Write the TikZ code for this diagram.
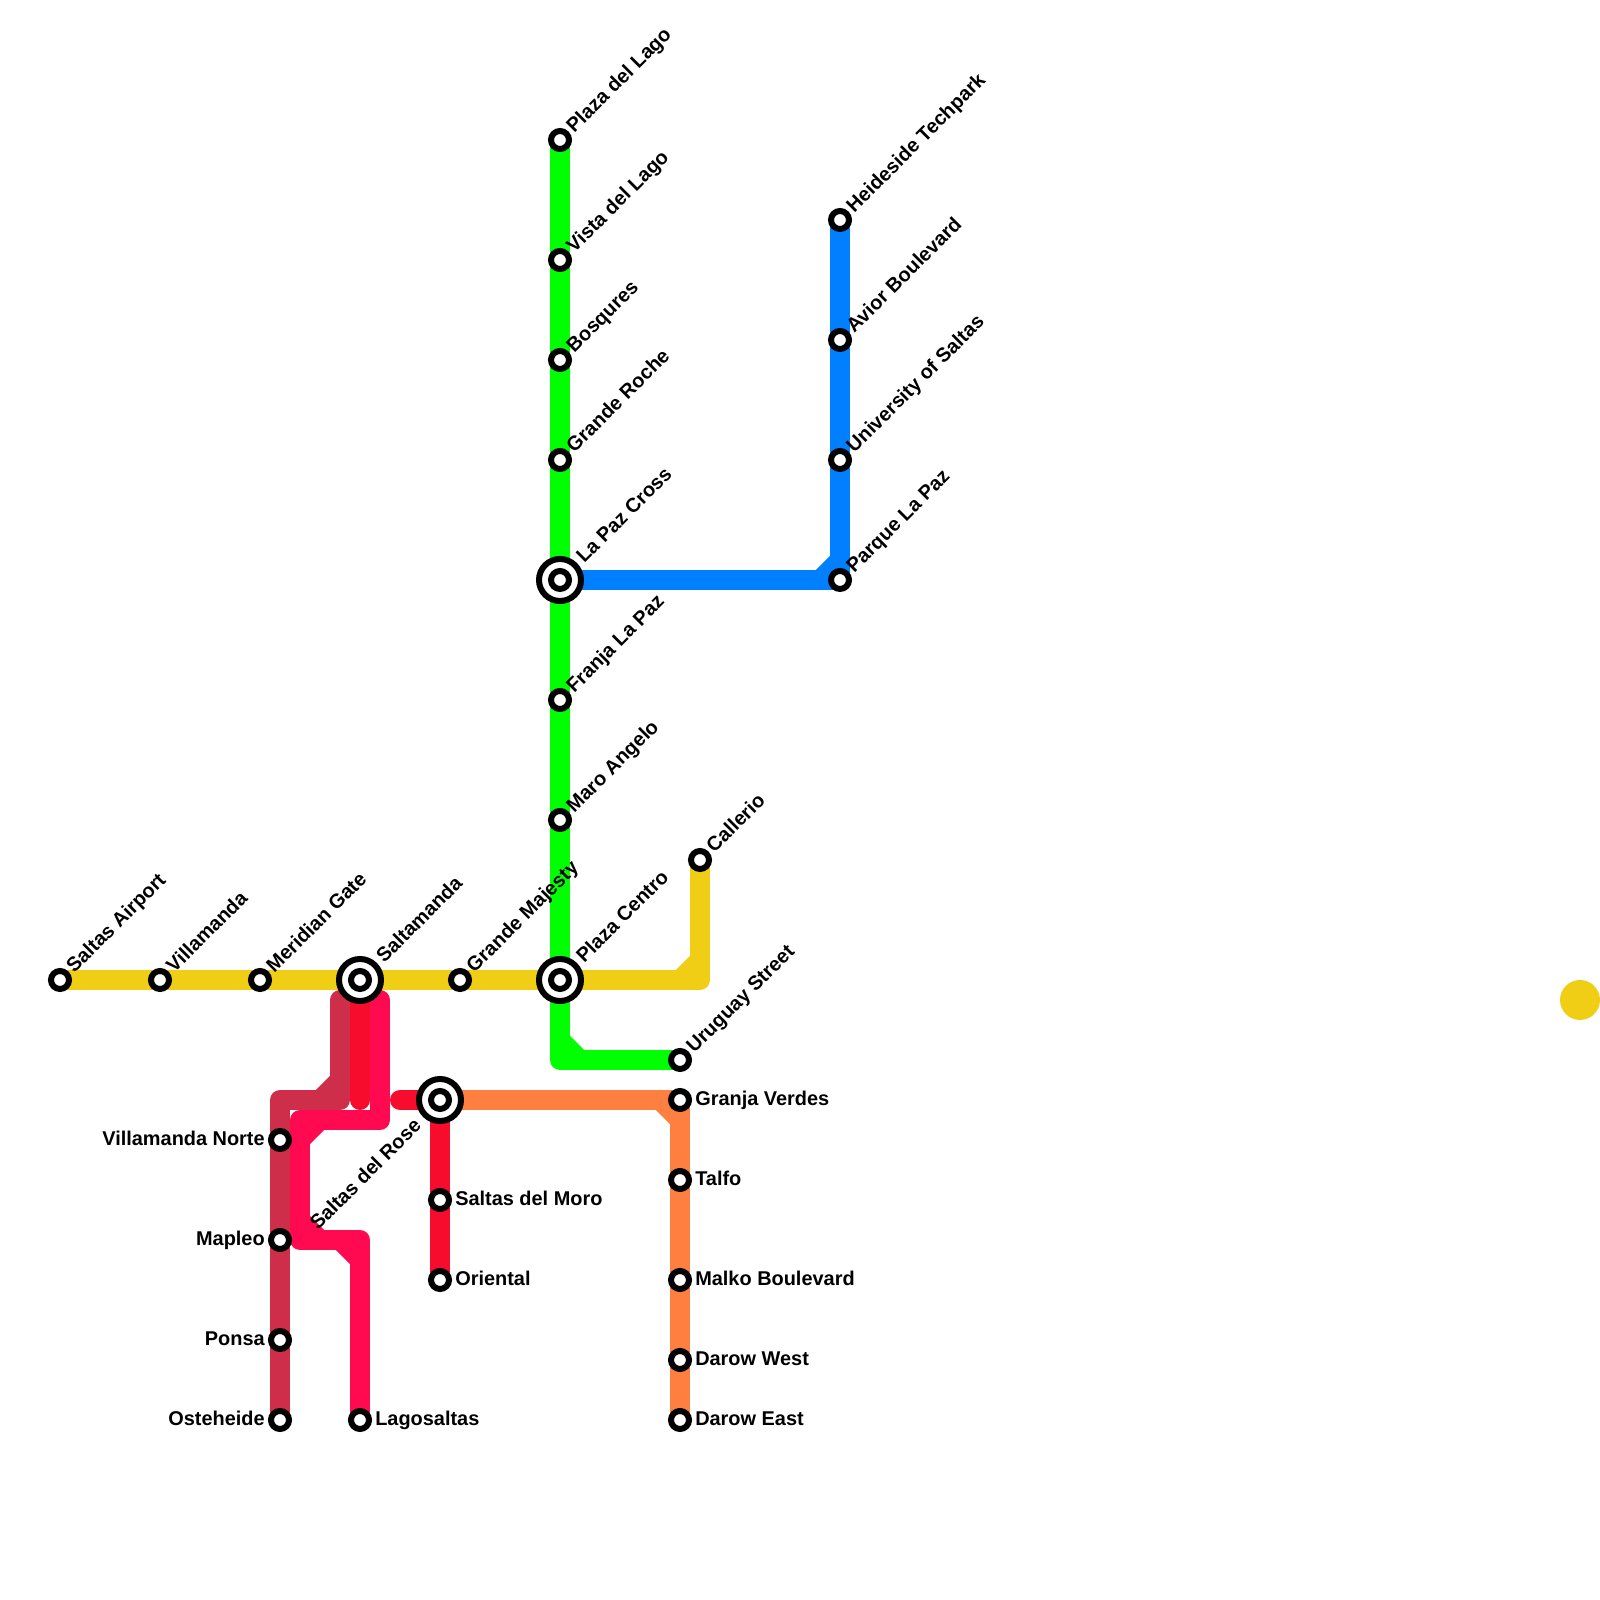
\documentclass[tikz,border=0pt]{standalone}
\usepackage{fontspec}
\usepackage{xcolor}
\usetikzlibrary{backgrounds}
\setmainfont{Liberation Sans}
\definecolor{lineyellow}{HTML}{F0CE15}
\definecolor{linegreen}{HTML}{00FF00}
\definecolor{lineblue}{HTML}{007FFF}
\definecolor{lineorange}{HTML}{FF7F41}
\definecolor{linecrimson}{HTML}{CF2E4A}
\definecolor{linered}{HTML}{F70C2D}
\definecolor{linepink}{HTML}{FF0A50}
\tikzset{
  metro/.style={line width=0.5cm,line cap=round,line join=round},
  stn/.style={circle,draw=black,fill=white,line width=0.15cm,minimum size=0.45cm,inner sep=0pt,outer sep=0pt},
  hub/.style={stn,minimum size=1.05cm,
    append after command={node[stn] at (\tikzlastnode) {}}},
  lbl/.style={font=\fontsize{14.17pt}{17pt}\selectfont\bfseries,inner sep=0pt,text=black},
  lblright/.style={lbl,anchor=base west,xshift=0.375cm,yshift=-0.15cm},
  lblleft/.style={lbl,anchor=base east,xshift=-0.375cm,yshift=-0.15cm},
  lblup/.style={lbl,rotate=45,anchor=base west,xshift=0.36cm,yshift=-0.145cm},
  lblhub/.style={lbl,rotate=45,anchor=base west,xshift=0.71cm,yshift=-0.145cm},
  lbldown/.style={lbl,rotate=45,anchor=base east,xshift=-0.78cm,yshift=-0.16cm}
}
\begin{document}
\begin{tikzpicture}[x=0.5cm,y=0.5cm]
\useasboundingbox (0,0) rectangle (80,80);
% stations
\node[stn] (airport) at (3,31) {};
\node[stn] (villamanda) at (8,31) {};
\node[stn] (meridian) at (13,31) {};
\node[hub] (saltamanda) at (18,31) {};
\node[stn] (majesty) at (23,31) {};
\node[hub] (centro) at (28,31) {};
\node[stn] (callerio) at (35,37) {};
\node[stn] (lago) at (28,73) {};
\node[stn] (vista) at (28,67) {};
\node[stn] (bosqures) at (28,62) {};
\node[stn] (roche) at (28,57) {};
\node[hub] (cross) at (28,51) {};
\node[stn] (franja) at (28,45) {};
\node[stn] (maro) at (28,39) {};
\node[stn] (uruguay) at (34,27) {};
\node[stn] (heideside) at (42,69) {};
\node[stn] (avior) at (42,63) {};
\node[stn] (university) at (42,57) {};
\node[stn] (parque) at (42,51) {};
\node[hub] (rose) at (22,25) {};
\node[stn] (granja) at (34,25) {};
\node[stn] (talfo) at (34,21) {};
\node[stn] (malko) at (34,16) {};
\node[stn] (darowwest) at (34,12) {};
\node[stn] (daroweast) at (34,9) {};
\node[stn] (moro) at (22,20) {};
\node[stn] (oriental) at (22,16) {};
\node[stn] (norte) at (14,23) {};
\node[stn] (mapleo) at (14,18) {};
\node[stn] (ponsa) at (14,13) {};
\node[stn] (osteheide) at (14,9) {};
\node[stn] (lagosaltas) at (18,9) {};
% line ends and bends
\coordinate (bendyellow) at (35,31);
\coordinate (bendgreen) at (28,27);
\coordinate (bendblue) at (42,51);
\coordinate (topcrimson) at (17,30);
\coordinate (bendcrimsona) at (17,25);
\coordinate (bendcrimsonb) at (14,25);
\coordinate (endred) at (18,25);
\coordinate (startred) at (20,25);
\coordinate (toppink) at (19,30);
\coordinate (bendpinka) at (19,24);
\coordinate (bendpinkb) at (15,24);
\coordinate (bendpinkc) at (15,18);
\coordinate (bendpinkd) at (18,18);
% lines
\begin{scope}[on background layer]
\draw[metro,lineyellow] (airport.center) -- (bendyellow) -- (callerio.center);
\draw[metro,lineyellow] (bendyellow) ++(-1,0) -- ++(1,1);
\draw[metro,linegreen] (lago.center) -- (bendgreen) -- (uruguay.center);
\draw[metro,linegreen] (bendgreen) ++(0,1) -- ++(1,-1);
\draw[metro,lineblue] (cross.center) -- (bendblue) -- (heideside.center);
\draw[metro,lineblue] (bendblue) ++(-1,0) -- ++(1,1);
\draw[metro,linered] (saltamanda.center) -- (endred);
\draw[metro,linered] (startred) -- (rose.center) -- (oriental.center);
\draw[metro,lineorange] (rose.center) -- (granja.center) -- (daroweast.center);
\draw[metro,lineorange] (granja.center) ++(-1,0) -- ++(1,-1);
\draw[metro,linecrimson] (topcrimson) -- (bendcrimsona) -- (bendcrimsonb) -- (osteheide.center);
\draw[metro,linecrimson] (bendcrimsona) ++(-1,0) -- ++(1,1);
\draw[metro,linepink] (toppink) -- (bendpinka) -- (bendpinkb) -- (bendpinkc) -- (bendpinkd) -- (lagosaltas.center);
\draw[metro,linepink] (bendpinkb) ++(0,-1) -- ++(1,1);
\draw[metro,linepink] (bendpinkc) ++(0,1) -- ++(1,-1);
\draw[metro,linepink] (bendpinkd) ++(-1,0) -- ++(1,-1);
\end{scope}
% labels
\node[lblup] at (airport) {Saltas Airport};
\node[lblup] at (villamanda) {Villamanda};
\node[lblup] at (meridian) {Meridian Gate};
\node[lblhub] at (saltamanda) {Saltamanda};
\node[lblup] at (majesty) {Grande Majesty};
\node[lblhub] at (centro) {Plaza Centro};
\node[lblup] at (callerio) {Callerio};
\node[lblup] at (lago) {Plaza del Lago};
\node[lblup] at (vista) {Vista del Lago};
\node[lblup] at (bosqures) {Bosqures};
\node[lblup] at (roche) {Grande Roche};
\node[lblhub] at (cross) {La Paz Cross};
\node[lblup] at (franja) {Franja La Paz};
\node[lblup] at (maro) {Maro Angelo};
\node[lblup] at (uruguay) {Uruguay Street};
\node[lblup] at (heideside) {Heideside Techpark};
\node[lblup] at (avior) {Avior Boulevard};
\node[lblup] at (university) {University of Saltas};
\node[lblup] at (parque) {Parque La Paz};
\node[lbldown] at (rose) {Saltas del Rose};
\node[lblright] at (granja) {Granja Verdes};
\node[lblright] at (talfo) {Talfo};
\node[lblright] at (malko) {Malko Boulevard};
\node[lblright] at (darowwest) {Darow West};
\node[lblright] at (daroweast) {Darow East};
\node[lblright] at (moro) {Saltas del Moro};
\node[lblright] at (oriental) {Oriental};
\node[lblright] at (lagosaltas) {Lagosaltas};
\node[lblleft] at (norte) {Villamanda Norte};
\node[lblleft] at (mapleo) {Mapleo};
\node[lblleft] at (ponsa) {Ponsa};
\node[lblleft] at (osteheide) {Osteheide};
\fill[lineyellow] (79,30) circle (0.5cm);
\end{tikzpicture}
\end{document}
